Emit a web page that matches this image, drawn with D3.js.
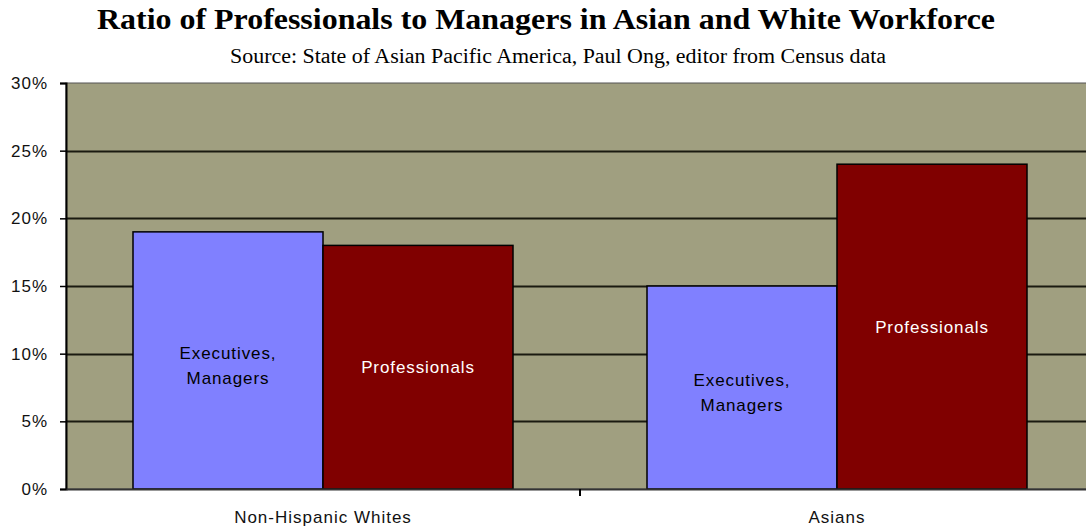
<!DOCTYPE html>
<html>
<head>
<meta charset="utf-8">
<script src="https://cdn.jsdelivr.net/npm/d3@7"></script>
<style>
  body { margin: 0; background: #fff; overflow: hidden; }
  text { font-family: "Liberation Sans", Arial, sans-serif; }
</style>
</head>
<body>
<div id="chart"></div>
<script>
const groups = ["Non-Hispanic Whites", "Asians"];
const seriesNames = ["Executives, Managers", "Professionals"];
const execValues = [19, 15];
const profValues = [18, 24];
const yTicks = [0, 5, 10, 15, 20, 25, 30];

const width = 1086, height = 527;
const margin = { top: 83, right: -8, bottom: 38, left: 66 };

const svg = d3.select("#chart")
    .append("svg")
    .attr("width", width)
    .attr("height", height);

// titles
svg.append("text")
    .attr("x", 546).attr("y", 29)
    .attr("text-anchor", "middle")
    .style("font-family", "'Liberation Serif', 'Times New Roman', serif")
    .style("font-weight", "bold")
    .style("font-size", "29px")
    .attr("textLength", 898)
    .attr("lengthAdjust", "spacingAndGlyphs")
    .text("Ratio of Professionals to Managers in Asian and White Workforce");

svg.append("text")
    .attr("x", 558).attr("y", 63)
    .attr("text-anchor", "middle")
    .style("font-family", "'Liberation Serif', 'Times New Roman', serif")
    .style("font-size", "20px")
    .attr("textLength", 656)
    .attr("lengthAdjust", "spacingAndGlyphs")
    .text("Source: State of Asian Pacific America, Paul Ong, editor from Census data");

const plotW = width - margin.left - margin.right,
      plotH = height - margin.top - margin.bottom;

const g = svg.append("g")
    .attr("transform", `translate(${margin.left},${margin.top})`);

const x = d3.scaleBand()
    .domain(groups)
    .range([0, plotW]);

const y = d3.scaleLinear()
    .domain([0, 30])
    .range([plotH, 0]);

// plot background
g.append("rect")
    .attr("x", 0).attr("y", 0)
    .attr("width", plotW).attr("height", plotH)
    .style("fill", "#a09f80")
    .style("stroke", "#555")
    .style("stroke-width", 1);

// gridlines
g.selectAll("line.grid")
    .data(yTicks.filter(d => d > 0 && d < 30))
    .join("line")
    .attr("class", "grid")
    .attr("x1", 0).attr("x2", plotW)
    .attr("y1", d => Math.round(y(d)) + 0.5)
    .attr("y2", d => Math.round(y(d)) + 0.5)
    .style("stroke", "#1a1a10")
    .style("stroke-width", 2);

// bars
const barW = 190;
const data = [];
groups.forEach((grp, i) => {
    data.push({ group: grp, series: 0, value: execValues[i] });
    data.push({ group: grp, series: 1, value: profValues[i] });
});
const cx = d => x(d.group) + x.bandwidth() / 2;
const bx = d => cx(d) - barW + d.series * barW;

g.selectAll("rect.bar")
    .data(data)
    .join("rect")
    .attr("class", "bar")
    .attr("x", d => bx(d))
    .attr("y", d => y(d.value))
    .attr("width", barW)
    .attr("height", d => plotH - y(d.value))
    .style("fill", d => d.series === 0 ? "#8080ff" : "#800000")
    .style("stroke", "#000")
    .style("stroke-width", 1.5);

// labels inside bars
const labels = g.selectAll("text.lbl")
    .data(data)
    .join("text")
    .attr("class", "lbl")
    .attr("text-anchor", "middle")
    .style("font-size", "17px")
    .style("letter-spacing", "0.9px")
    .style("fill", d => d.series === 0 ? "#000" : "#fff")
    .attr("x", d => bx(d) + barW / 2)
    .attr("y", d => (y(d.value) + plotH) / 2);

labels.each(function (d) {
    const t = d3.select(this);
    if (d.series === 0) {
        const parts = ["Executives,", "Managers"];
        parts.forEach((p, k) => {
            t.append("tspan")
                .attr("x", bx(d) + barW / 2)
                .attr("dy", k === 0 ? "-0.1em" : "1.5em")
                .text(p);
        });
    } else {
        t.append("tspan").attr("dy", "0.35em").text(seriesNames[1]);
    }
});

// y axis
const yAxis = g.append("g")
    .call(d3.axisLeft(y).tickValues(yTicks).tickFormat(d => d + "%").tickSize(6).tickPadding(12));
yAxis.select(".domain").style("stroke", "#000").style("stroke-width", 2);
yAxis.selectAll("line").style("stroke-width", 1.5);
yAxis.selectAll("text")
    .style("font-size", "17px")
    .style("letter-spacing", "1px")
    .style("fill", "#111")
    .style("font-family", "'Liberation Sans', Arial, sans-serif");

// x axis
const xAxis = g.append("g")
    .attr("transform", `translate(0,${plotH})`)
    .call(d3.axisBottom(x).tickSize(0).tickPadding(22));
xAxis.select(".domain").style("stroke", "#333").style("stroke-width", 2);
xAxis.selectAll("text")
    .style("font-size", "17px")
    .style("letter-spacing", "1px")
    .style("fill", "#111")
    .style("font-family", "'Liberation Sans', Arial, sans-serif");

// tick marks between categories
g.selectAll("line.xtick")
    .data(groups.slice(0, -1))
    .join("line")
    .attr("class", "xtick")
    .attr("x1", d => x(d) + x.bandwidth()).attr("x2", d => x(d) + x.bandwidth())
    .attr("y1", plotH).attr("y2", plotH + 7)
    .style("stroke", "#000")
    .style("stroke-width", 2);
</script>
</body>
</html>
